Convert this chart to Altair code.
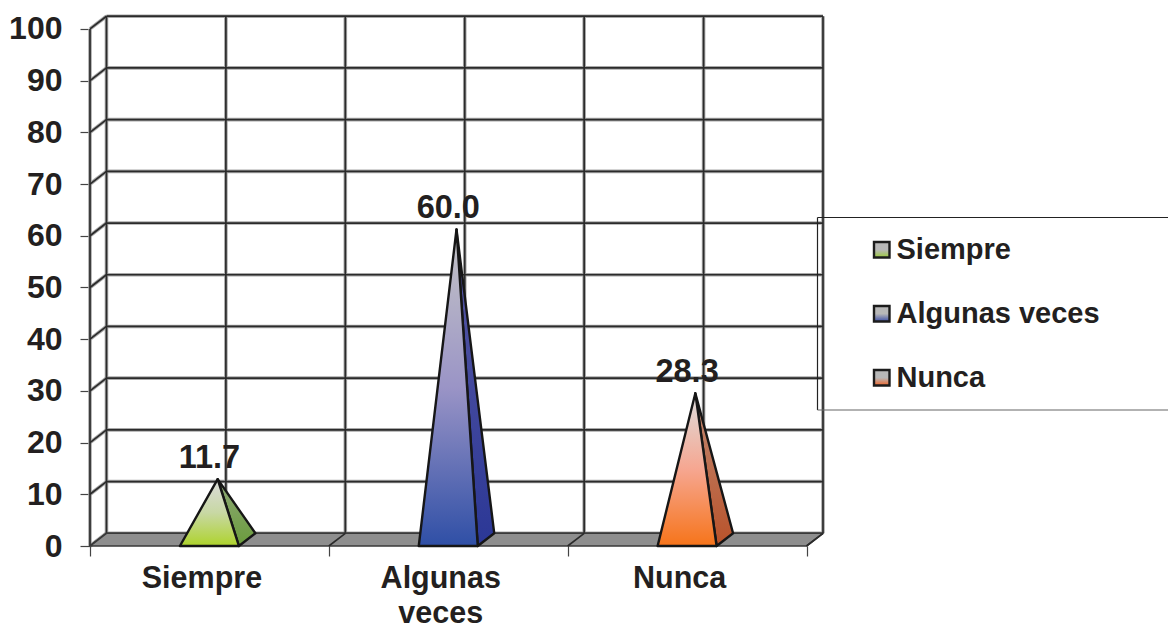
import altair as alt
import pandas as pd

categories = ["Siempre", "Algunas veces", "Nunca"]
values = [11.7, 60.0, 28.3]
value_ticks = [0, 10, 20, 30, 40, 50, 60, 70, 80, 90, 100]
front_colors = [
    ["#dcdcdc", "#c8d8a4", "#aed32c"],
    ["#c6c6c6", "#9a94c6", "#2f4fa6"],
    ["#dedede", "#f6a690", "#f6741a"],
]
side_colors = [
    ["#8fa878", "#6a9c3c"],
    ["#5a5aa4", "#2b3796"],
    ["#c08a74", "#b9522a"],
]
legend_colors = ["#9ccb3c", "#3d4fa8", "#f0662a"]

INK = "#231f20"
FONT = "Liberation Sans"

# Oblique projection: depth moves a point right and up, in scale units.
DEPTH_X = 0.069
DEPTH_Y = 2.46
BASE = 0.247
X_MAX = 3 + DEPTH_X
Y_MAX = 102.5

x_scale = alt.Scale(domain=[0, X_MAX], nice=False, zero=False)
y_scale = alt.Scale(domain=[0, Y_MAX], nice=False, zero=False)

# Category axis: labels sit mid-category, ticks only on the category boundaries.
name_lookup = {0.5: "'Siempre'", 1.5: "['Algunas','veces']", 2.5: "'Nunca'"}
label_expr = "".join(f"datum.value=={k}?{v}:" for k, v in name_lookup.items()) + "''"

x_axis = alt.Axis(
    title=None, values=[0, 0.5, 1, 1.5, 2, 2.5, 3], labelExpr=label_expr, grid=False, domain=False,
    tickSize=10, tickColor="#444444", tickWidth=1.2,
    tickOpacity={"condition": {"test": "datum.value % 1 == 0", "value": 1}, "value": 0},
    labelFont=FONT, labelFontSize=30.5, labelFontWeight="bold", labelColor=INK,
    labelPadding=22, labelOffset=-8, labelLineHeight=35, labelBaseline="middle",
    labelOverlap=False, labelFlush=False,
)
y_axis = alt.Axis(
    title=None, values=value_ticks, grid=False, domain=False,
    tickSize=10, tickColor="#444444", tickWidth=1.2,
    labelFont=FONT, labelFontSize=32, labelFontWeight="bold", labelColor=INK,
    labelPadding=18,
)


def project(cat, val, depth=0.0):
    return cat + depth * DEPTH_X, val + depth * DEPTH_Y


def seg(a, b):
    return {"x": a[0], "y": a[1], "x2": b[0], "y2": b[1]}


def polygon_rows(points):
    """Turn a convex polygon into upper/lower rows for an area mark."""
    xs = sorted({p[0] for p in points})
    n = len(points)
    rows = []
    for x in xs:
        hits = []
        for i in range(n):
            (x0, y0), (x1, y1) = points[i], points[(i + 1) % n]
            if min(x0, x1) <= x <= max(x0, x1):
                if x0 == x1:
                    hits += [y0, y1]
                else:
                    hits.append(y0 + (y1 - y0) * (x - x0) / (x1 - x0))
        rows.append({"x": x, "top": max(hits), "bottom": min(hits)})
    return pd.DataFrame(rows)


def area_layer(points, fill, stroke="#161616", width=2.4):
    return alt.Chart(polygon_rows(points)).mark_area(
        color=fill, stroke=stroke, strokeWidth=width, strokeJoin="round"
    ).encode(
        x=alt.X("x:Q", scale=x_scale, axis=x_axis),
        y=alt.Y("top:Q", scale=y_scale, axis=y_axis, stack=None),
        y2="bottom:Q",
    )


def gradient(colors):
    step = 1 / (len(colors) - 1)
    return alt.Gradient(
        gradient="linear",
        stops=[alt.GradientStop(color=c, offset=i * step) for i, c in enumerate(colors)],
        x1=0, x2=0, y1=0, y2=1,
    )


def segments_layer(rows, color, width):
    return alt.Chart(pd.DataFrame(rows)).mark_rule(color=color, strokeWidth=width).encode(
        x=alt.X("x:Q", scale=x_scale, axis=x_axis),
        y=alt.Y("y:Q", scale=y_scale, axis=y_axis),
        x2="x2:Q",
        y2="y2:Q",
    )


# Walls and floor of the oblique box.
wall_rows = []
for v in value_ticks:
    wall_rows.append(seg(project(0, v, 0), project(0, v, 1)))
    wall_rows.append(seg(project(0, v, 1), project(3, v, 1)))
for k in range(7):
    wall_rows.append(seg(project(k / 2, 0, 1), project(k / 2, 100, 1)))
wall_rows.append(seg(project(0, 0, 0), project(0, 100, 0)))

floor = area_layer(
    [project(0, 0, 0), project(3, 0, 0), project(3, 0, 1), project(0, 0, 1)],
    "#8e8e8e", stroke="#3a3a3a", width=1.6,
)
floor_rows = [seg(project(k, 0, 0), project(k, 0, 1)) for k in (1, 2, 3)]

layers = [
    segments_layer(wall_rows, "#a8a8a8", 3.6),
    segments_layer(wall_rows, "#2b2b2b", 1.7),
    floor,
    segments_layer(floor_rows, "#2b2b2b", 1.6),
]

# One pyramid per category: the apex sits above the centre of a square base.
for i, v in enumerate(values):
    left = i + 0.5 - BASE / 2
    right = i + 0.5 + BASE / 2
    apex = project(i + 0.5, v, 0.5)
    layers.append(area_layer(
        [project(right, 0, 0), project(right, 0, 1), apex], gradient(side_colors[i])
    ))
    layers.append(area_layer(
        [project(left, 0, 0), project(right, 0, 0), apex], gradient(front_colors[i])
    ))

# Value labels above each apex.
label_data = pd.DataFrame({
    "x": [i + 0.5 for i in range(len(values))],
    "y": [v + DEPTH_Y / 2 for v in values],
    "label": [f"{v:.1f}" for v in values],
})
layers.append(alt.Chart(label_data).mark_text(
    font=FONT, fontSize=32.5, fontWeight="bold", color=INK, dy=-21, baseline="middle", align="center"
).encode(
    x=alt.X("x:Q", scale=x_scale, axis=x_axis),
    y=alt.Y("y:Q", scale=y_scale, axis=y_axis),
    text="label:N",
))

# Legend frame, open towards the right edge of the page.
PLOT_LEFT, PLOT_TOP = 90, 16
def px(v):
    return alt.value(v - PLOT_LEFT)
def py(v):
    return alt.value(v - PLOT_TOP)

one = pd.DataFrame({"a": [0]})
frame_parts = [
    (817.5, 1168, 217.5, 217.5, "#222222"),
    (817.5, 817.5, 217.5, 410, "#222222"),
    (817.5, 1168, 410, 410, "#666666"),
]
for x0, x1, y0, y1, col in frame_parts:
    layers.append(alt.Chart(one).mark_rule(color=col, strokeWidth=1.2).encode(
        x=px(x0), x2=px(x1), y=py(y0), y2=py(y1)
    ))

legend_centres = [250, 314, 378]
for name, col, cy in zip(categories, legend_colors, legend_centres):
    layers.append(alt.Chart(one).mark_rect(
        color=gradient(["#b8b8b8", "#b8b8b8", col]), stroke="#1c1c1c", strokeWidth=2.4
    ).encode(x=px(874), x2=px(889.5), y=py(cy - 8), y2=py(cy + 7.5)))
    layers.append(alt.Chart(pd.DataFrame({"t": [name]})).mark_text(
        font=FONT, fontSize=29, fontWeight="bold", color=INK, align="left", baseline="middle"
    ).encode(x=px(896.5), y=py(cy), text="t:N"))

chart = alt.layer(*layers).properties(
    width=733,
    height=530,
    padding={"left": PLOT_LEFT, "top": PLOT_TOP, "right": 345, "bottom": 84},
    autosize=alt.AutoSizeParams(type="none"),
    background="white",
).configure_view(stroke=None)

chart.save("out.html", embed_options={"renderer": "svg", "actions": False})
